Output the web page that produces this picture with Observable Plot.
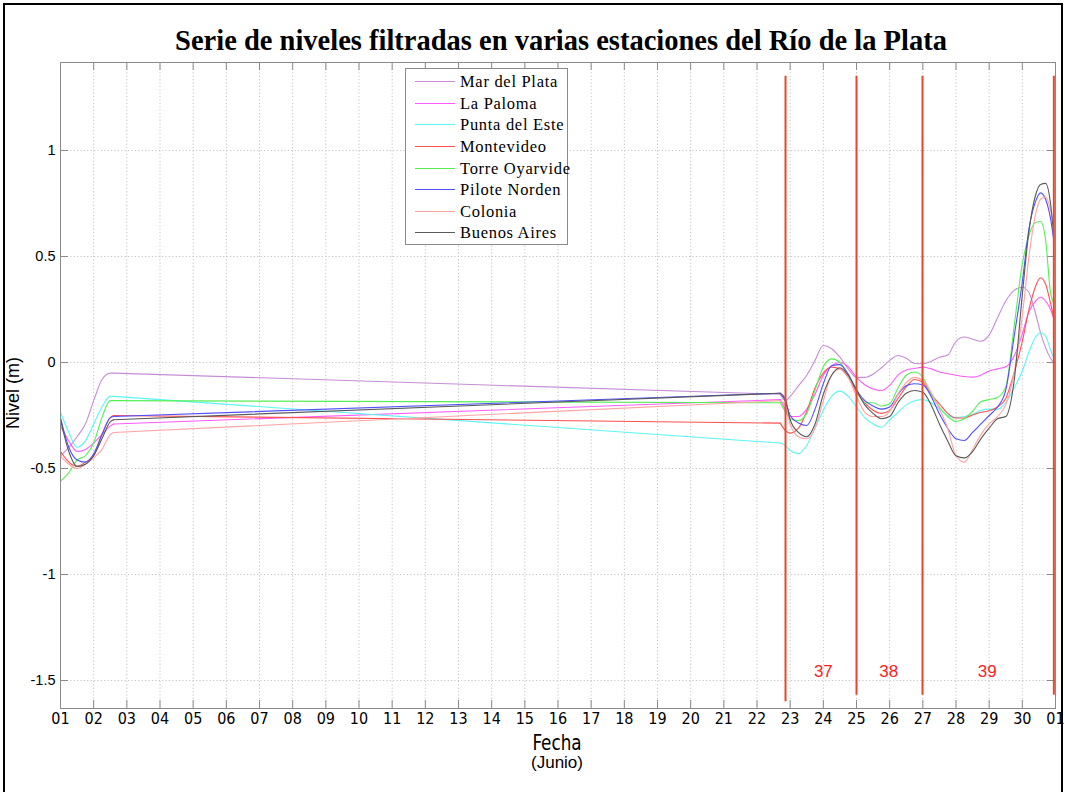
<!DOCTYPE html>
<html>
<head>
<meta charset="utf-8">
<script src="https://cdn.jsdelivr.net/npm/d3@7"></script>
<script src="https://cdn.jsdelivr.net/npm/@observablehq/plot@0.6"></script>
<style>
  body { margin: 0; background: #fff; }
  #wrap { position: relative; width: 1065px; height: 792px; overflow: hidden; background: #fff; }
  #chart { position: absolute; left: 0; top: 0; }
  #border { position: absolute; left: 3px; top: 3px; width: 1056px; height: 830px; border: 2px solid #000; pointer-events: none; }
  #title { position: absolute; left: 0; top: 27px; width: 1122px; text-align: center; font: bold 28.5px/28.5px "Liberation Serif", serif; color: #000; white-space: nowrap; }
  #xlabel { position: absolute; left: 457px; top: 732px; width: 200px; text-align: center; font: 22px/22px "DejaVu Sans Condensed", "Liberation Sans", sans-serif; color: #000; transform: scaleX(0.85); transform-origin: 50% 50%; }
  #xsub { position: absolute; left: 457px; top: 754px; width: 200px; text-align: center; font: 17px/17px "Liberation Sans", sans-serif; color: #000; }
  #ylabel { position: absolute; left: -37px; top: 383px; width: 100px; height: 20px; text-align: center; font: 18px/20px "Liberation Sans", sans-serif; color: #000; transform: rotate(-90deg); transform-origin: 50% 50%; white-space: nowrap; }
  #legend { position: absolute; left: 405px; top: 68px; width: 161px; height: 175px; border: 1px solid #8a8a8a; background: #fff; overflow: visible; }
  .lg-line { position: absolute; left: 9px; width: 40px; height: 0; border-top: 1.6px solid; }
  .lg-text { position: absolute; left: 54px; font: 16.5px/16.5px "Liberation Serif", serif; letter-spacing: 0.7px; white-space: nowrap; color: #000; }
</style>
</head>
<body>
<div id="wrap">
  <div id="chart"></div>
  <div id="title">Serie de niveles filtradas en varias estaciones del Río de la Plata</div>
  <div id="xlabel">Fecha</div>
  <div id="xsub">(Junio)</div>
  <div id="ylabel">Nivel (m)</div>
  <div id="legend"></div>
  <div id="border"></div>
</div>
<script>
// ---- Data ----
const stations = ["Mar del Plata", "La Paloma", "Punta del Este", "Montevideo", "Torre Oyarvide", "Pilote Norden", "Colonia", "Buenos Aires"];
const colors = ["#c68dd6", "#ff5cff", "#5cf5f5", "#ff5050", "#55ee55", "#5050ff", "#ffa4a4", "#5a5a5a"];

const days = [1, 1.25, 1.5, 1.75, 2, 2.25, 2.5, 2.6,
  22.7, 22.85,
  23, 23.25, 23.5, 23.75, 24, 24.25, 24.5, 24.75, 25, 25.25, 25.5, 25.75, 26, 26.25, 26.5, 26.75,
  27, 27.25, 27.5, 27.75, 28, 28.25, 28.5, 28.75, 29, 29.25, 29.5, 29.75, 30,
  30.2, 30.4, 30.55, 30.7, 30.85, 30.95];

const marDelPlata = [-0.44, -0.40, -0.35, -0.29, -0.18, -0.08, -0.05, -0.05,
  -0.15, -0.18,
  -0.16, -0.11, -0.06, 0.01, 0.08, 0.065, 0.025, -0.03, -0.07, -0.07, -0.055, -0.025, 0.01, 0.033, 0.02, -0.005,
  -0.006, 0.005, 0.025, 0.035, 0.10, 0.12, 0.11, 0.10, 0.13, 0.21, 0.29, 0.34, 0.355,
  0.33, 0.23, 0.14, 0.07, 0.02, 0.0];
const laPaloma = [-0.30, -0.37, -0.42, -0.41, -0.38, -0.34, -0.30, -0.29,
  -0.175, -0.22,
  -0.255, -0.255, -0.22, -0.15, -0.06, -0.015, 0.0, -0.02, -0.07, -0.105, -0.125, -0.132, -0.108, -0.06, -0.035, -0.028,
  -0.022, -0.03, -0.045, -0.053, -0.06, -0.066, -0.069, -0.06, -0.04, -0.03, -0.02, 0.03, 0.135,
  0.24, 0.29, 0.308, 0.29, 0.25, 0.205];
const puntaDelEste = [-0.235, -0.33, -0.40, -0.37, -0.29, -0.21, -0.16, -0.16,
  -0.38, -0.39,
  -0.415, -0.43, -0.39, -0.31, -0.225, -0.16, -0.135, -0.16, -0.21, -0.26, -0.29, -0.305, -0.27, -0.235, -0.20, -0.18,
  -0.175, -0.19, -0.22, -0.25, -0.26, -0.255, -0.245, -0.225, -0.22, -0.22, -0.19, -0.12, -0.04,
  0.05, 0.12, 0.14, 0.125, 0.06, 0.02];
const montevideo = [-0.42, -0.47, -0.49, -0.47, -0.44, -0.34, -0.26, -0.25,
  -0.286, -0.32,
  -0.333, -0.31, -0.23, -0.12, -0.05, -0.022, -0.03, -0.07, -0.14, -0.19, -0.225, -0.24, -0.226, -0.17, -0.115, -0.08,
  -0.093, -0.15, -0.195, -0.24, -0.262, -0.262, -0.248, -0.235, -0.228, -0.21, -0.17, -0.05, 0.10,
  0.25, 0.36, 0.40, 0.37, 0.28, 0.21];
const torreOyarvide = [-0.56, -0.52, -0.46, -0.44, -0.38, -0.26, -0.18, -0.18,
  -0.19, -0.23,
  -0.265, -0.274, -0.24, -0.13, -0.02, 0.017, 0.0, -0.065, -0.13, -0.19, -0.19, -0.205, -0.195, -0.12, -0.06, -0.045,
  -0.07, -0.15, -0.21, -0.255, -0.278, -0.265, -0.23, -0.185, -0.175, -0.165, -0.116, 0.167, 0.465,
  0.60, 0.66, 0.665, 0.58, 0.33, 0.28];
const piloteNorden = [-0.26, -0.40, -0.46, -0.47, -0.43, -0.34, -0.26, -0.255,
  -0.145, -0.18,
  -0.25, -0.285, -0.297, -0.22, -0.10, -0.015, -0.01, -0.055, -0.13, -0.18, -0.205, -0.22, -0.21, -0.15, -0.11, -0.10,
  -0.105, -0.16, -0.242, -0.31, -0.36, -0.368, -0.33, -0.29, -0.25, -0.21, -0.13, 0.12, 0.38,
  0.63, 0.76, 0.80, 0.77, 0.68, 0.575];
const colonia = [-0.44, -0.48, -0.50, -0.48, -0.45, -0.41, -0.34, -0.33,
  -0.18, -0.20,
  -0.29, -0.35, -0.36, -0.31, -0.18, -0.06, -0.03, -0.07, -0.16, -0.235, -0.255, -0.255, -0.23, -0.15, -0.095, -0.07,
  -0.085, -0.14, -0.22, -0.31, -0.44, -0.47, -0.41, -0.34, -0.29, -0.255, -0.20, -0.05, 0.22,
  0.50, 0.70, 0.77, 0.78, 0.72, 0.64];
const buenosAires = [-0.27, -0.42, -0.49, -0.48, -0.44, -0.36, -0.28, -0.27,
  -0.145, -0.17,
  -0.27, -0.33, -0.35, -0.29, -0.15, -0.06, -0.025, -0.06, -0.13, -0.20, -0.24, -0.265, -0.255, -0.19, -0.145, -0.132,
  -0.14, -0.20, -0.29, -0.37, -0.44, -0.45, -0.42, -0.36, -0.31, -0.265, -0.255, -0.09, 0.32,
  0.62, 0.79, 0.84, 0.845, 0.75, 0.59];

const seriesValues = [marDelPlata, laPaloma, puntaDelEste, montevideo, torreOyarvide, piloteNorden, colonia, buenosAires];

// gap in the record (drawn as a straight segment)
const gapStart = 2.6, gapEnd = 22.7;

// vertical markers and period labels
const eventDays = [22.86, 25.0, 26.99, 30.95];
const eventBottoms = [-1.60, -1.57, -1.57, -1.57];
const eventTop = 1.35;
const periodLabels = ["37", "38", "39"];
const periodDays = [24.0, 25.97, 28.94];
const periodLevel = -1.46;

// axes
const xTickDays = d3.range(1, 32);
const xTickLabels = ["01","02","03","04","05","06","07","08","09","10","11","12","13","14","15","16","17","18","19","20","21","22","23","24","25","26","27","28","29","30","01"];
const yTicks = [-1.5, -1, -0.5, 0, 0.5, 1];
const xDomain = [1, 31];
const yDomain = [-1.632, 1.415];

// ---- Build table ----
const rows = [];
stations.forEach((s, k) => {
  days.forEach((d, i) => rows.push({station: s, day: d, value: seriesValues[k][i]}));
});
const events = eventDays.map((d, i) => ({day: d, bottom: eventBottoms[i]}));
const periods = periodLabels.map((t, i) => ({text: t, day: periodDays[i]}));

const W = 1065, H = 792, mL = 60, mR = 10, mT = 62, mB = 84;
const tickLenY = 8 * (yDomain[1] - yDomain[0]) / (H - mT - mB);
const tickLenX = 8 * (xDomain[1] - xDomain[0]) / (W - mL - mR);
const axisGray = "#8a8a8a";
const gridGray = "#c4c4c4";
const tickFont = '"Liberation Sans Narrow", "DejaVu Sans Condensed", sans-serif';

const lineOpts = {x: "day", y: "value", z: "station", stroke: "station", strokeWidth: 1.1};

const chart = Plot.plot({
  width: W, height: H,
  marginLeft: mL, marginRight: mR, marginTop: mT, marginBottom: mB,
  style: {background: "transparent", fontFamily: "Liberation Sans, sans-serif"},
  x: {domain: xDomain},
  y: {domain: yDomain},
  color: {domain: stations, range: colors},
  marks: [
    // grid
    Plot.ruleX(xTickDays, {x: d => d, stroke: gridGray, strokeDasharray: "1.2,2.2"}),
    Plot.ruleY(yTicks, {y: d => d, stroke: gridGray, strokeDasharray: "1.2,2.2"}),
    // inward tick marks on all four sides
    Plot.ruleX(xTickDays, {x: d => d, y1: yDomain[0], y2: yDomain[0] + tickLenY, stroke: axisGray}),
    Plot.ruleX(xTickDays, {x: d => d, y1: yDomain[1] - tickLenY, y2: yDomain[1], stroke: axisGray}),
    Plot.ruleY(yTicks, {y: d => d, x1: xDomain[0], x2: xDomain[0] + tickLenX, stroke: axisGray}),
    Plot.ruleY(yTicks, {y: d => d, x1: xDomain[1] - tickLenX, x2: xDomain[1], stroke: axisGray}),
    // series
    Plot.line(rows.filter(r => r.day <= gapStart), {...lineOpts, curve: "monotone-x"}),
    Plot.line(rows.filter(r => r.day === gapStart || r.day === gapEnd), {...lineOpts, curve: "linear"}),
    Plot.line(rows.filter(r => r.day >= gapEnd), {...lineOpts, curve: "monotone-x"}),
    // event markers
    Plot.ruleX(events, {x: "day", y1: "bottom", y2: () => eventTop, stroke: "#e8462c", strokeWidth: 2}),
    Plot.text(periods, {x: "day", y: () => periodLevel, text: "text", fill: "#ff1c1c", fontSize: 17, fontFamily: "Liberation Sans, sans-serif"}),
    Plot.frame({stroke: axisGray}),
    // axes
    Plot.axisX(xTickDays, {anchor: "bottom", tickSize: 0, tickPadding: 4, tickFormat: d => xTickLabels[d - 1], label: null, fontSize: 16, fontFamily: tickFont, fill: "#000"}),
    Plot.axisY(yTicks, {anchor: "left", tickSize: 0, tickPadding: 5, tickFormat: d => String(d), label: null, fontSize: 14.5, fontFamily: "Liberation Sans, sans-serif", fill: "#000"})
  ]
});
document.getElementById("chart").appendChild(chart);

// ---- Legend ----
const legend = document.getElementById("legend");
const rowY0 = 81.7, rowStep = 21.65, boxTop = 68 + 1;
stations.forEach((s, i) => {
  const cy = rowY0 + i * rowStep - boxTop;
  const ln = document.createElement("div");
  ln.className = "lg-line";
  ln.style.top = (cy - 0.8) + "px";
  ln.style.borderTopColor = colors[i];
  legend.appendChild(ln);
  const tx = document.createElement("div");
  tx.className = "lg-text";
  tx.style.top = (cy + 6 - 13.8) + "px";
  tx.textContent = s;
  legend.appendChild(tx);
});
</script>
</body>
</html>
